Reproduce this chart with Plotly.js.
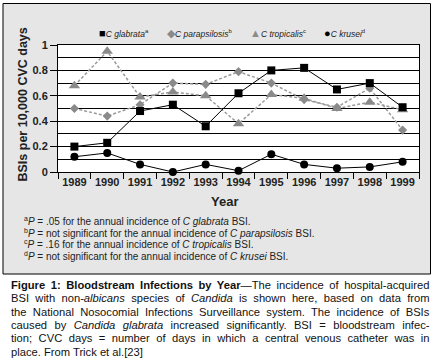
<!DOCTYPE html>
<html>
<head>
<meta charset="utf-8">
<script src="https://cdn.plot.ly/plotly-3.0.1.min.js"></script>
<style>
html,body{margin:0;padding:0;background:#fff;}
#chart{width:433px;height:363px;}
</style>
</head>
<body>
<div id="chart"></div>
<script>
// ---- data ----
const years = ['1989','1990','1991','1992','1993','1994','1995','1996','1997','1998','1999'];
const glabrata     = [0.20, 0.23, 0.48, 0.53, 0.36, 0.62, 0.80, 0.82, 0.65, 0.70, 0.51];
const parapsilosis = [0.50, 0.44, 0.53, 0.70, 0.69, 0.79, 0.70, 0.57, 0.51, 0.66, 0.33];
const tropicalis   = [0.68, 0.95, 0.59, 0.63, 0.60, 0.38, 0.61, 0.58, 0.50, 0.55, 0.49];
const krusei       = [0.12, 0.15, 0.06, 0.00, 0.06, 0.01, 0.14, 0.06, 0.03, 0.04, 0.08];
const seriesNames  = ['C glabrata', 'C parapsilosis', 'C tropicalis', 'C krusei'];
const seriesSup    = ['a', 'b', 'c', 'd'];
const yTitle = 'BSIs per 10,000 CVC days';
const xTitle = 'Year';
const footnotes = [
  '<sup>a</sup><i>P</i> = .05 for the annual incidence of <i>C glabrata</i> BSI.',
  '<sup>b</sup><i>P</i> = not significant for the annual incidence of <i>C parapsilosis</i> BSI.',
  '<sup>c</sup><i>P</i> = .16 for the annual incidence of <i>C tropicalis</i> BSI.',
  '<sup>d</sup><i>P</i> = not significant for the annual incidence of <i>C krusei</i> BSI.'
];
const captionLines = [
  '<b>Figure 1: Bloodstream Infections by Year</b>—The incidence of hospital-acquired',
  'BSI with non-<i>albicans</i> species of <i>Candida</i> is shown here, based on data from',
  'the National Nosocomial Infections Surveillance system. The incidence of BSIs',
  'caused by <i>Candida glabrata</i> increased significantly. BSI = bloodstream infec-',
  'tion; CVC days = number of days in which a central venous catheter was in',
  'place. From Trick et al.[23]'
];

// ---- geometry helpers (pixel -> paper) ----
const W = 433, H = 363, L = 58, R = 14, T = 45, B = 191;
const pw = W - L - R, ph = H - T - B;
const px = x => (x - L) / pw;
const py = y => (H - B - y) / ph;

const FONT = 'Liberation Sans, Arial, Helvetica, sans-serif';
const grayMk = '#8a8a8a', grayLn = '#9a9a9a';

// justify a caption line: measure with canvas, spread the slack over the spaces
const cv = document.createElement('canvas').getContext('2d');
function measureLine(html, size) {
  const parts = html.split(/(<\/?[bi]>)/);
  let bold = false, ital = false, w = 0, spaces = 0;
  parts.forEach(p => {
    if (p === '<b>') bold = true; else if (p === '</b>') bold = false;
    else if (p === '<i>') ital = true; else if (p === '</i>') ital = false;
    else if (p) {
      cv.font = (ital ? 'italic ' : '') + (bold ? 'bold ' : '') + size + 'px "Liberation Sans"';
      w += cv.measureText(p).width;
      spaces += (p.match(/ /g) || []).length;
    }
  });
  return {w, spaces};
}
function justify(html, size, target) {
  const m = measureLine(html, size);
  const ws = m.spaces ? (target - m.w) / m.spaces : 0;
  return '<span style="word-spacing:' + ws.toFixed(2) + 'px">' + html + '</span>';
}

const traces = [
  {x: years, y: parapsilosis, name: seriesNames[1], mode: 'lines+markers',
   line: {color: grayLn, width: 1.5, dash: '3px,2px'},
   marker: {symbol: 'diamond', size: 7, color: grayMk}},
  {x: years, y: tropicalis, name: seriesNames[2], mode: 'lines+markers',
   line: {color: grayLn, width: 1.5, dash: '3px,2px'},
   marker: {symbol: 'triangle-up', size: 10, color: grayMk}},
  {x: years, y: glabrata, name: seriesNames[0], mode: 'lines+markers',
   line: {color: '#000', width: 1},
   marker: {symbol: 'square', size: 8, color: '#000'}},
  {x: years, y: krusei, name: seriesNames[3], mode: 'lines+markers',
   line: {color: '#000', width: 1},
   marker: {symbol: 'circle', size: 8, color: '#000'}}
].map(t => Object.assign(t, {type: 'scatter', cliponaxis: false, showlegend: false, hoverinfo: 'skip'}));

const annotations = [];
// y title
annotations.push({xref: 'paper', yref: 'paper', x: px(22), y: py(104.5), text: '<b>' + yTitle + '</b>',
  textangle: -90, showarrow: false, xanchor: 'center', yanchor: 'middle',
  font: {family: FONT, size: 12.5, color: '#222'}});
// x title
annotations.push({xref: 'paper', yref: 'paper', x: px(224), y: py(201), text: '<b>' + xTitle + '</b>',
  showarrow: false, xanchor: 'center', yanchor: 'middle',
  font: {family: FONT, size: 13, color: '#222'}});
// legend
const legSyms = ['■', '◆', '▲', '●'];
const legCols = ['#000', grayMk, grayMk, '#000'];
const legX = [97, 165, 248, 322];
for (let i = 0; i < 4; i++) {
  annotations.push({xref: 'paper', yref: 'paper', x: px(legX[i]), y: py(33.5),
    text: '<span style="color:' + legCols[i] + ';font-size:11px">' + legSyms[i] + '</span><i>' + seriesNames[i] + '</i><sup>' + seriesSup[i] + '</sup>',
    showarrow: false, xanchor: 'left', yanchor: 'middle',
    font: {family: FONT, size: 8.5, color: '#222'}});
}
// footnotes
footnotes.forEach((f, i) => annotations.push({xref: 'paper', yref: 'paper', x: px(22), y: py(221 + 11.5 * i),
  text: f, showarrow: false, xanchor: 'left', yanchor: 'middle', align: 'left',
  font: {family: FONT, size: 10, color: '#222'}}));
// caption (justified except the last line)
captionLines.forEach((c, i) => annotations.push({xref: 'paper', yref: 'paper', x: px(8.5), y: py(285 + 13.3 * i),
  text: i < captionLines.length - 1 ? justify(c, 11.2, 418.5) : c,
  showarrow: false, xanchor: 'left', yanchor: 'middle', align: 'left',
  font: {family: FONT, size: 11.2, color: '#111'}}));

const layout = {
  width: W, height: H,
  margin: {l: L, r: R, t: T, b: B, pad: 0},
  paper_bgcolor: '#fff', plot_bgcolor: '#fff',
  showlegend: false,
  font: {family: FONT, color: '#222'},
  xaxis: {type: 'category', range: [-0.5, 10.5], tickson: 'boundaries', tickangle: 0,
    ticks: 'outside', ticklen: 6, tickcolor: '#000', tickwidth: 1,
    showline: true, linecolor: '#000', linewidth: 1, mirror: true,
    showgrid: false, zeroline: false, fixedrange: true,
    tickfont: {family: FONT, size: 11, color: '#222', weight: 'bold'}},
  yaxis: {range: [0, 1], tickmode: 'linear', tick0: 0, dtick: 0.2,
    ticks: 'outside', ticklen: 7, tickcolor: '#000', tickwidth: 1,
    showline: true, linecolor: '#000', linewidth: 1, mirror: true,
    showgrid: true, gridcolor: '#000', gridwidth: 1, zeroline: false, fixedrange: true,
    minor: {dtick: 0.1, tick0: 0, showgrid: true, gridcolor: '#000', gridwidth: 1, ticks: ''},
    tickfont: {family: FONT, size: 11, color: '#222', weight: 'bold'}},
  shapes: [
    {type: 'rect', xref: 'paper', yref: 'paper', x0: px(3), x1: px(430.5), y0: py(274), y1: py(3.5),
     fillcolor: '#e6e6e6', line: {color: '#000', width: 1}, layer: 'below'},
    {type: 'rect', xref: 'paper', yref: 'paper', x0: 0, x1: 1, y0: 0, y1: 1,
     fillcolor: '#fff', line: {width: 0}, layer: 'below'}
  ],
  annotations: annotations
};

Plotly.newPlot('chart', traces, layout, {displayModeBar: false, staticPlot: true});
</script>
</body>
</html>
